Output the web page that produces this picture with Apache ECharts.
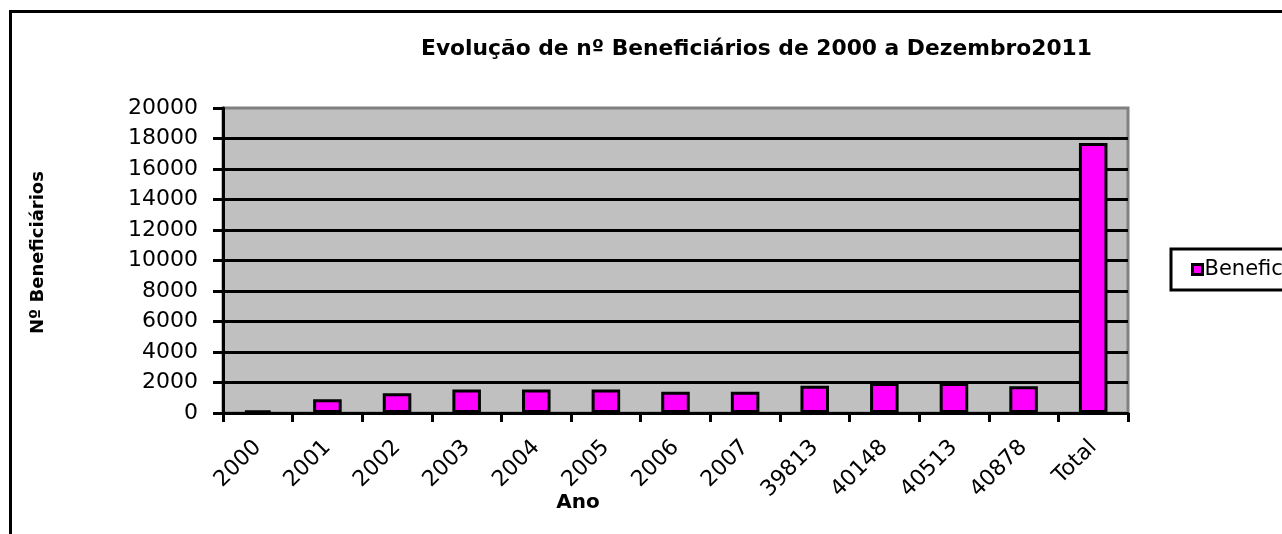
<!DOCTYPE html>
<html>
<head>
<meta charset="utf-8">
<title>Evolução de nº Beneficiários</title>
<script src="https://cdn.jsdelivr.net/npm/echarts@6/dist/echarts.min.js"></script>
<style>
  html, body { margin: 0; padding: 0; background: #fff; }
  #chart { width: 1282px; height: 534px; }
</style>
</head>
<body>
<div id="chart"></div>
<script>
// dados
const anos = ['2000', '2001', '2002', '2003', '2004', '2005', '2006', '2007', '39813', '40148', '40513', '40878', 'Total']
const beneficiarios = [180, 900, 1290, 1540, 1540, 1540, 1400, 1400, 1780, 1970, 1970, 1760, 17700]
const yMin = 0
const yMax = 20000
const yStep = 2000

const font = 'DejaVu Sans'

const myChart = echarts.init(document.getElementById('chart'))

const option = {
    backgroundColor: '#ffffff',
    animation: false,
    title: {
        text: 'Evolução de nº Beneficiários de 2000 a Dezembro2011',
        left: 421,
        top: 38,
        padding: 0,
        textStyle: {
            fontFamily: font,
            fontSize: 21.8,
            fontWeight: 'bold',
            color: '#000'
        }
    },
    legend: {
        show: true,
        left: 1171,
        top: 249,
        orient: 'vertical',
        icon: 'rect',
        itemWidth: 10,
        itemHeight: 10,
        padding: [10, 12, 10, 20],
        borderColor: '#000',
        borderWidth: 3,
        backgroundColor: '#fff',
        itemStyle: {
            borderColor: '#000',
            borderWidth: 3
        },
        textStyle: {
            fontFamily: font,
            fontSize: 21,
            color: '#000',
            padding: [0, 0, 0, -3]
        }
    },
    graphic: [{
        // moldura exterior do gráfico
        type: 'rect',
        left: 8,
        top: 9,
        shape: { width: 1400, height: 700 },
        style: { fill: 'none', stroke: '#000', lineWidth: 3 },
        silent: true
    }, {
        // título do eixo x (deslocado para a esquerda como no original)
        type: 'text',
        x: 578,
        y: 503,
        style: {
            text: 'Ano',
            fontFamily: font,
            fontSize: 20,
            fontWeight: 'bold',
            fill: '#000',
            align: 'center',
            verticalAlign: 'middle'
        },
        silent: true
    }],
    grid: {
        left: 223,
        right: 154,
        top: 108,
        bottom: 121,
        show: true,
        backgroundColor: '#c0c0c0',
        borderColor: '#808080',
        borderWidth: 3
    },
    xAxis: [{
        type: 'category',
        data: anos,
        axisLine: {
            lineStyle: { color: '#000', width: 3 }
        },
        axisTick: {
            show: true,
            alignWithLabel: false,
            length: 9,
            lineStyle: { color: '#000', width: 3 }
        },
        axisLabel: {
            interval: 0,
            rotate: 45,
            margin: 31,
            fontFamily: font,
            fontSize: 22,
            color: '#000'
        },
        splitLine: { show: false }
    }],
    yAxis: [{
        type: 'value',
        min: yMin,
        max: yMax,
        interval: yStep,
        name: 'Nº Beneficiários',
        nameLocation: 'middle',
        nameGap: 176,
        nameTextStyle: {
            fontFamily: font,
            fontSize: 18,
            fontWeight: 'bold',
            color: '#000',
            padding: [0, 0, 0, 16]
        },
        axisLine: {
            show: true,
            lineStyle: { color: '#000', width: 3 }
        },
        axisTick: {
            show: true,
            length: 10,
            lineStyle: { color: '#000', width: 3 }
        },
        axisLabel: {
            margin: 25,
            fontFamily: font,
            fontSize: 22,
            color: '#000',
            formatter: value => String(value)
        },
        splitLine: {
            show: true,
            showMinLine: false,
            showMaxLine: false,
            lineStyle: { color: '#000', width: 3 }
        }
    }],
    series: [{
        name: 'Beneficiários',
        type: 'bar',
        data: beneficiarios,
        barWidth: '41%',
        itemStyle: {
            color: '#ff00ff',
            borderColor: '#000',
            borderWidth: 3
        }
    }]
}

myChart.setOption(option)
</script>
</body>
</html>
